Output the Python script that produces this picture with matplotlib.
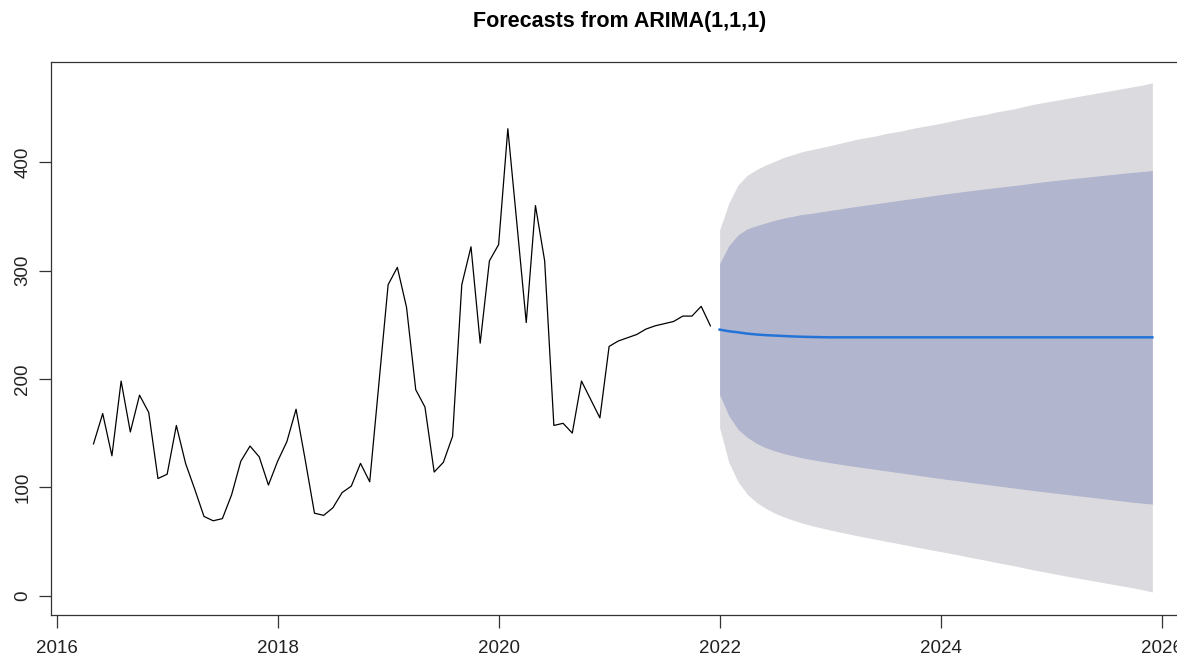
import matplotlib
matplotlib.use("Agg")
import matplotlib.pyplot as plt
import matplotlib.patches as mpatches
import numpy as np

plt.rcParams['font.family'] = ['Liberation Sans', 'DejaVu Sans']

# monthly observations, May 2016 .. Dec 2021
start_year = 2016
start_month = 5
observed = [140, 168, 129, 198, 151, 185, 169, 108, 112, 157,
            122, 98, 73, 69, 71, 93, 124, 138, 128, 102,
            124, 142, 172, 125, 76, 74, 81, 95, 101, 122,
            105, 196, 287, 303, 266, 190, 174, 114, 123, 147,
            287, 322, 233, 309, 324, 431, 342, 252, 360, 309,
            157, 159, 150, 198, 181, 164, 230, 235, 238, 241,
            246, 249, 251, 253, 258, 258, 267, 249]

# forecasts, Jan 2022 .. Dec 2025
fc_mean = [245.5, 244.0, 243.0, 241.8, 241.0, 240.4, 240.0, 239.6, 239.2, 238.9, 238.7, 238.5,
           238.4, 238.4, 238.4, 238.4, 238.4, 238.4, 238.4, 238.4, 238.4, 238.4, 238.4, 238.4,
           238.4, 238.4, 238.4, 238.4, 238.4, 238.4, 238.4, 238.4, 238.4, 238.4, 238.4, 238.4,
           238.4, 238.4, 238.4, 238.4, 238.4, 238.4, 238.4, 238.4, 238.4, 238.4, 238.4, 238.4]
hi95 = [337.5, 362.2, 379.1, 388.0, 393.2, 397.5, 401.0, 404.6, 407.2, 409.9, 411.7, 413.5,
        415.4, 417.4, 419.4, 421.4, 422.9, 424.4, 426.4, 427.9, 429.4, 431.4, 432.9, 434.4,
        436.0, 437.8, 439.6, 441.4, 442.9, 444.4, 446.4, 447.9, 449.4, 451.4, 453.4, 454.9,
        456.4, 457.9, 459.4, 460.9, 462.4, 463.9, 465.4, 466.9, 468.4, 469.9, 471.4, 473.4]
lo95 = [155.0, 123.0, 105.0, 93.5, 86.0, 80.5, 76.0, 72.5, 69.5, 66.8, 64.5, 62.5,
        60.5, 58.7, 56.9, 55.1, 53.5, 51.9, 50.2, 48.6, 47.0, 45.3, 43.7, 42.1,
        40.6, 39.0, 37.4, 35.6, 34.0, 32.4, 30.6, 29.0, 27.4, 25.6, 23.8, 22.2,
        20.6, 19.0, 17.4, 15.9, 14.4, 12.9, 11.4, 9.9, 8.4, 6.9, 5.2, 3.2]
hi80 = [306.5, 323.0, 333.0, 338.5, 341.5, 344.0, 346.5, 348.6, 350.2, 351.9, 352.9, 354.2,
        355.6, 356.8, 358.2, 359.4, 360.6, 361.8, 363.0, 364.2, 365.4, 366.6, 367.8, 369.0,
        370.2, 371.3, 372.4, 373.5, 374.6, 375.6, 376.6, 377.6, 378.6, 379.6, 380.8, 381.8,
        382.8, 383.7, 384.6, 385.5, 386.4, 387.3, 388.2, 389.1, 390.0, 390.8, 391.6, 392.4]
lo80 = [185.5, 166.0, 153.5, 146.0, 140.5, 136.5, 133.5, 131.0, 129.0, 127.0, 125.5, 124.0,
        122.6, 121.3, 120.0, 118.8, 117.6, 116.4, 115.2, 114.0, 112.8, 111.6, 110.4, 109.2,
        108.0, 106.9, 105.8, 104.7, 103.6, 102.5, 101.4, 100.3, 99.2, 98.1, 97.0, 96.0,
        95.0, 94.0, 93.0, 92.0, 91.0, 90.0, 89.0, 88.0, 87.0, 86.0, 85.2, 84.4]

x_ticks = [2016, 2018, 2020, 2022, 2024, 2026]
y_ticks = [0, 100, 200, 300, 400]

t_obs = start_year + (start_month - 1) / 12 + np.arange(len(observed)) / 12
t_fc = t_obs[-1] + (np.arange(len(fc_mean)) + 1) / 12

fig = plt.figure(figsize=(11.84, 6.59), dpi=100)
ax = fig.add_axes([50.7 / 1184, 44 / 659, 1144 / 1184, 553 / 659])

ax.fill_between(t_fc, lo95, hi95, color='#dbdbdf', lw=0)
ax.fill_between(t_fc, lo80, hi80, color='#b1b5ce', lw=0)
ax.plot(t_obs, observed, color='black', lw=0.9)
ax.plot(t_fc, fc_mean, color='#2474d8', lw=1.8)

ax.set_xlim(2015.946, 2026.3)
ax.set_ylim(-18, 492.6)
ax.set_xticks(x_ticks)
ax.set_yticks(y_ticks)
ax.set_yticklabels([str(v) for v in y_ticks], rotation=90, va='center')
ax.tick_params(axis='both', direction='out', length=9, width=0.9, color='#333333',
               labelsize=13.5, labelcolor='#222222')
ax.tick_params(axis='x', pad=9)
ax.tick_params(axis='y', pad=5)
for s in ax.spines.values():
    s.set_linewidth(0.9)
    s.set_color('#333333')

fig.text(620 / 1184, 1 - 21 / 659, 'Forecasts from ARIMA(1,1,1)', ha='center', va='center',
         fontsize=15.5, fontweight='bold')

# the reference is cut off at the right edge
fig.patches.append(mpatches.Rectangle((1177 / 1184, 0), 1, 1, transform=fig.transFigure,
                                      facecolor='white', edgecolor='none', zorder=10))

fig.savefig('out.png', dpi=100)
